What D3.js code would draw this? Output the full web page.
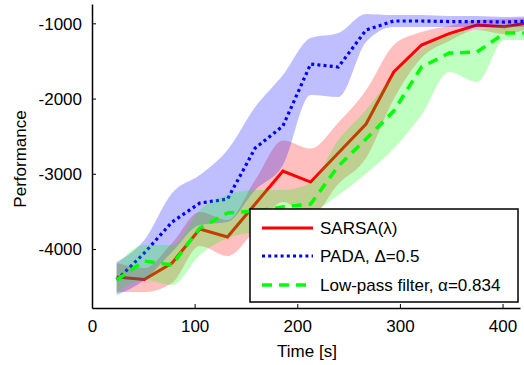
<!DOCTYPE html>
<html>
<head>
<meta charset="utf-8">
<script src="https://cdn.jsdelivr.net/npm/d3@7"></script>
<style>
  html, body { margin: 0; padding: 0; background: #fff; }
  svg { display: block; font-family: "Liberation Sans", Arial, Helvetica, sans-serif; }
</style>
</head>
<body>
<svg id="chart" width="524" height="365"></svg>
<script>
// Sample times (s)
const time = [24, 51, 78, 105, 132, 159, 186, 213, 240, 267, 294, 321, 348, 375, 402, 429];

// SARSA(λ): mean and spread
const sarsaMean  = [-4372, -4406, -4186, -3734, -3841, -3402, -2963, -3110, -2724, -2339, -1647, -1288, -1136, -1023, -1045, -983];
const sarsaUpper = [-4186, -4253, -3920, -3508, -3614, -3083, -2558, -2664, -2319, -1888, -1289, -1116, -1036, -956, -943, -930];
const sarsaLower = [-4572, -4572, -4452, -3960, -4093, -3748, -3375, -3561, -3136, -2790, -2007, -1461, -1236, -1089, -1142, -1049];

// PADA, Δ=0.5: mean and spread
const padaMean  = [-4412, -4053, -3641, -3389, -3336, -2658, -2365, -1541, -1581, -1089, -969, -969, -976, -976, -983, -969];
const padaUpper = [-4173, -3881, -3256, -3017, -2684, -2113, -1687, -1196, -1129, -876, -890, -890, -903, -903, -916, -903];
const padaLower = [-4611, -4412, -4040, -3681, -3641, -3216, -2884, -1953, -1980, -1249, -1049, -1049, -1049, -1049, -1049, -1049];

// Low-pass filter, α=0.834: mean and spread
const lowpassMean  = [-4412, -4160, -4213, -3721, -3522, -3495, -3442, -3402, -2897, -2538, -2166, -1581, -1395, -1382, -1129, -1129];
const lowpassUpper = [-4213, -3947, -3947, -3482, -3283, -3216, -3216, -3123, -2551, -2153, -1688, -1355, -1156, -1089, -1036, -1036];
const lowpassLower = [-4585, -4412, -4479, -4080, -3854, -3774, -3681, -3535, -3282, -2996, -2664, -2219, -1647, -1780, -1222, -1222];

const xTicks = [0, 100, 200, 300, 400];
const yTicks = [-4000, -3000, -2000, -1000];

const legendLabels = ["SARSA(λ)", "PADA, Δ=0.5", "Low-pass filter, α=0.834"];

const svg = d3.select("#chart");

const x = d3.scaleLinear().domain([0, 417]).range([92, 520]);
const y = d3.scaleLinear().domain([-4784, -743]).range([308, 4]);

const series = [
  { mean: sarsaMean,   upper: sarsaUpper,   lower: sarsaLower,   color: "#ff0000", dash: null,    width: 3 },
  { mean: padaMean,    upper: padaUpper,    lower: padaLower,    color: "#0000ff", dash: "3,3.2", width: 3.2 },
  { mean: lowpassMean, upper: lowpassUpper, lower: lowpassLower, color: "#00ff00", dash: "10,7",  width: 3.5 }
];

// Spread bands are drawn as smooth curves through the bound values
const band = d3.area()
  .x((d, i) => x(time[i]))
  .y0(d => y(d[0]))
  .y1(d => y(d[1]))
  .curve(d3.curveMonotoneX);

const line = d3.line()
  .x((d, i) => x(time[i]))
  .y(d => y(d));

const plot = svg.append("g");

series.forEach(s => {
  const pairs = s.lower.map((lo, i) => [lo, s.upper[i]]);
  plot.append("path")
    .attr("d", band(pairs))
    .attr("fill", s.color)
    .attr("fill-opacity", 0.25)
    .attr("stroke", "none");
  plot.append("path")
    .attr("d", line(s.mean))
    .attr("fill", "none")
    .attr("stroke", s.color)
    .attr("stroke-width", s.width)
    .attr("stroke-dasharray", s.dash)
    .attr("stroke-linejoin", "miter");
});

// Axes with inward ticks, plain integer labels
const fmt = d => String(d);
const xAxis = d3.axisBottom(x).tickValues(xTicks).tickFormat(fmt).tickSizeInner(-4).tickSizeOuter(0).tickPadding(12);
const yAxis = d3.axisLeft(y).tickValues(yTicks).tickFormat(fmt).tickSizeInner(-4).tickSizeOuter(0).tickPadding(10);

const gx = svg.append("g").attr("transform", "translate(0,308)").call(xAxis);
const gy = svg.append("g").attr("transform", "translate(92,0)").call(yAxis);

[gx, gy].forEach(g => {
  g.select(".domain").attr("stroke", "#000").attr("stroke-width", 1.5);
  g.selectAll(".tick line").attr("stroke", "#000").attr("stroke-width", 1);
  g.selectAll(".tick text").attr("fill", "#000").attr("font-size", 17)
    .attr("font-family", "'Liberation Sans', Arial, sans-serif");
});
gy.selectAll(".tick text").attr("dy", "0.35em");

// Axis titles
svg.append("text")
  .attr("x", 307).attr("y", 357)
  .attr("text-anchor", "middle")
  .attr("font-size", 17)
  .text("Time [s]");

svg.append("text")
  .attr("transform", "translate(26,159) rotate(-90)")
  .attr("text-anchor", "middle")
  .attr("font-size", 17)
  .text("Performance");

// Legend
const legend = svg.append("g");
legend.append("rect")
  .attr("x", 250).attr("y", 209)
  .attr("width", 268).attr("height", 93)
  .attr("fill", "#fff")
  .attr("stroke", "#000")
  .attr("stroke-width", 1.5);

const rowY = [228, 256, 285];
series.forEach((s, i) => {
  legend.append("line")
    .attr("x1", 262).attr("x2", 313)
    .attr("y1", rowY[i]).attr("y2", rowY[i])
    .attr("stroke", s.color)
    .attr("stroke-width", s.width)
    .attr("stroke-dasharray", s.dash);
  legend.append("text")
    .attr("x", 320).attr("y", rowY[i])
    .attr("dy", "0.35em")
    .attr("font-size", 17)
    .text(legendLabels[i]);
});
</script>
</body>
</html>
